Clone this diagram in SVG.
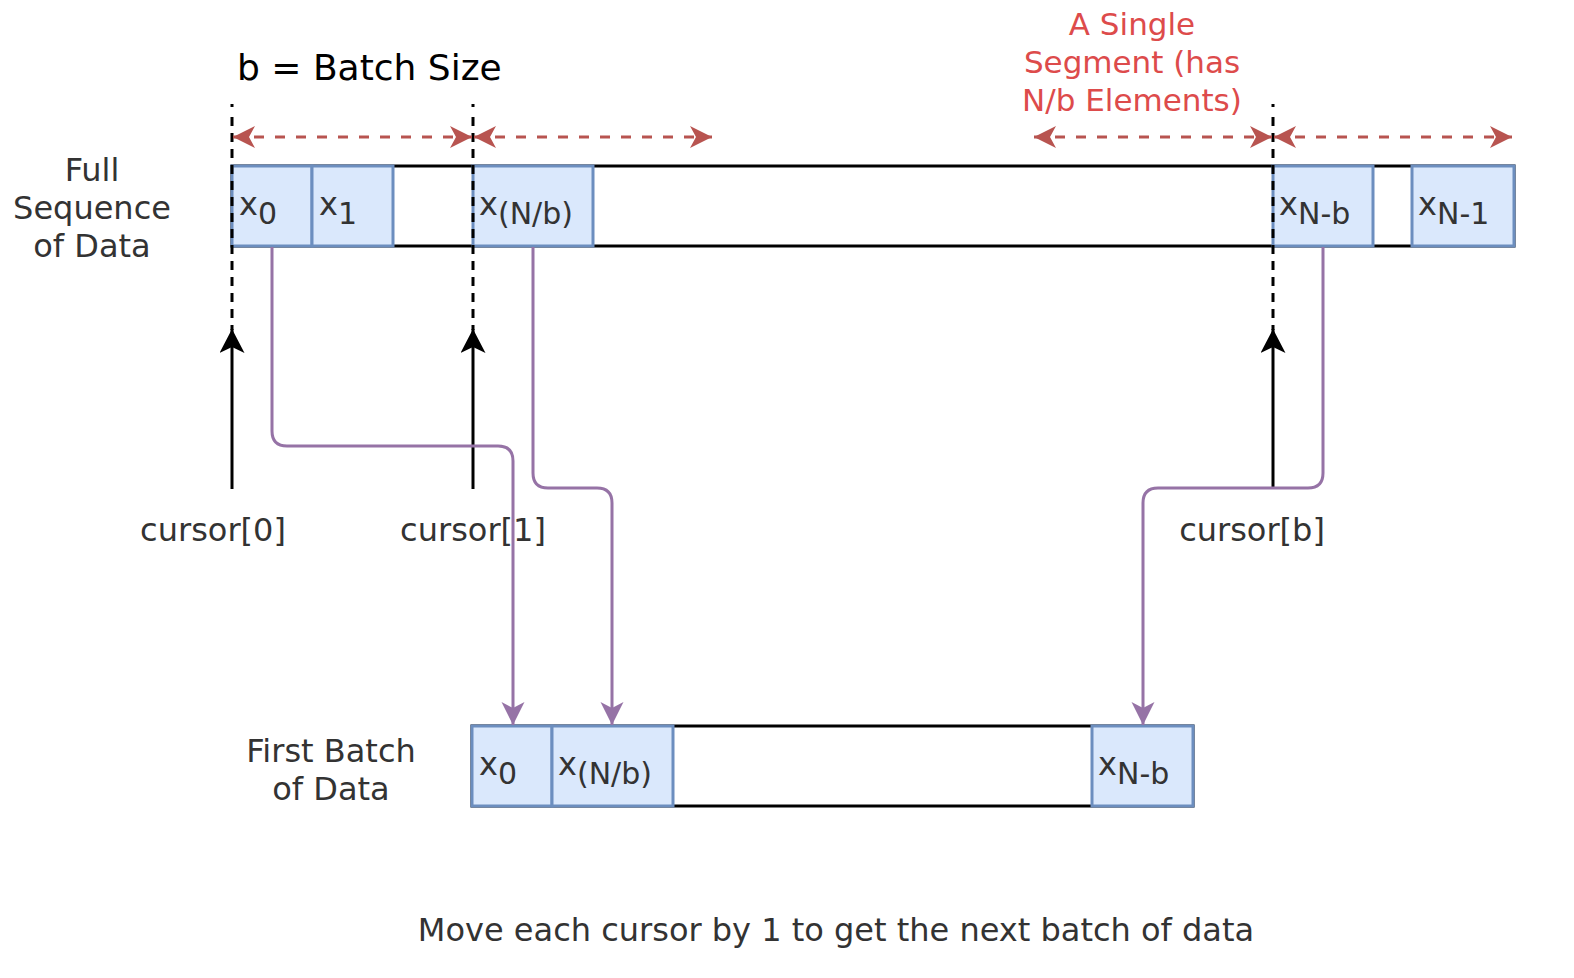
<svg xmlns="http://www.w3.org/2000/svg" width="1574" height="978" viewBox="0 0 1574 978">
  <style>
    text { font-family: "DejaVu Sans", Verdana, sans-serif; fill: #333333; }
    .lbl { font-size: 32px; text-anchor: middle; }
    .foot { font-size: 32px; text-anchor: middle; }
    .title { font-size: 36px; fill: #000000; }
    .red { font-size: 31px; text-anchor: middle; fill: #dd4b4b; }
    .cell { fill: #dae8fc; stroke: #6c8ebf; stroke-width: 3; }
    .bar { fill: #ffffff; stroke: #000000; stroke-width: 3; }
    .x { font-size: 32px; }
    .sub { font-size: 30px; }
    .span { fill: none; stroke: #b85450; stroke-width: 3; stroke-dasharray: 10 11; }
    .guide { fill: none; stroke: #000000; stroke-width: 3; stroke-dasharray: 3 10 9 7 9 7 9 7 9 7 9 7 9 7 9 7 9 7 9 7 9 7 9 7 9 7 9 7 9 7 200; }
    .cursor { fill: none; stroke: #000000; stroke-width: 3; }
    .link { fill: none; stroke: #9673a6; stroke-width: 3; }
  </style>
  <defs>
    <marker id="arrRed" markerUnits="userSpaceOnUse" markerWidth="24" markerHeight="22" refX="22" refY="11" orient="auto-start-reverse">
      <path d="M0,0 L22,11 L0,22 L6,11 Z" fill="#b85450"/>
    </marker>
    <marker id="arrBlack" markerUnits="userSpaceOnUse" markerWidth="26" markerHeight="26" refX="24" refY="12.5" orient="auto">
      <path d="M0,0 L24,12.5 L0,25 L6,12.5 Z" fill="#000000"/>
    </marker>
    <marker id="arrPurple" markerUnits="userSpaceOnUse" markerWidth="26" markerHeight="24" refX="23" refY="11.5" orient="auto">
      <path d="M0,0 L23,11.5 L0,23 L6,11.5 Z" fill="#9673a6"/>
    </marker>
  </defs>

  <text class="title" x="237" y="80">b = Batch Size</text>

  <g id="segment-label">
    <text class="red" x="1132" y="35">A Single</text>
    <text class="red" x="1132" y="73">Segment (has</text>
    <text class="red" x="1132" y="111">N/b Elements)</text>
  </g>

  <g id="full-label">
    <text class="lbl" x="92" y="181">Full</text>
    <text class="lbl" x="92" y="219">Sequence</text>
    <text class="lbl" x="92" y="257">of Data</text>
  </g>

  <!-- full sequence bar with its cells -->
  <g id="full-sequence">
    <rect class="bar" x="232" y="166" width="1282" height="80"/>
    <g id="cell-x0">
      <rect class="cell" x="232" y="166" width="80" height="80"/>
      <text x="239" y="215"><tspan class="x">x</tspan><tspan class="sub" dy="9">0</tspan></text>
    </g>
    <g id="cell-x1">
      <rect class="cell" x="312" y="166" width="81" height="80"/>
      <text x="319" y="215"><tspan class="x">x</tspan><tspan class="sub" dy="9">1</tspan></text>
    </g>
    <g id="cell-xNb">
      <rect class="cell" x="473" y="166" width="120" height="80"/>
      <text x="479" y="215"><tspan class="x">x</tspan><tspan class="sub" dy="9">(N/b)</tspan></text>
    </g>
    <g id="cell-xN-b">
      <rect class="cell" x="1273" y="166" width="100" height="80"/>
      <text x="1279" y="215"><tspan class="x">x</tspan><tspan class="sub" dy="9">N-b</tspan></text>
    </g>
    <g id="cell-xN-1">
      <rect class="cell" x="1412" y="166" width="102" height="80"/>
      <text x="1418" y="215"><tspan class="x">x</tspan><tspan class="sub" dy="9">N-1</tspan></text>
    </g>
  </g>

  <g id="batch-label">
    <text class="lbl" x="331" y="762">First Batch</text>
    <text class="lbl" x="331" y="800">of Data</text>
  </g>

  <!-- first batch bar -->
  <g id="first-batch">
    <rect class="bar" x="472" y="726" width="721" height="80"/>
    <g id="batch-x0">
      <rect class="cell" x="472" y="726" width="80" height="80"/>
      <text x="479" y="775"><tspan class="x">x</tspan><tspan class="sub" dy="9">0</tspan></text>
    </g>
    <g id="batch-xNb">
      <rect class="cell" x="552" y="726" width="121" height="80"/>
      <text x="558" y="775"><tspan class="x">x</tspan><tspan class="sub" dy="9">(N/b)</tspan></text>
    </g>
    <g id="batch-xN-b">
      <rect class="cell" x="1092" y="726" width="101" height="80"/>
      <text x="1098" y="775"><tspan class="x">x</tspan><tspan class="sub" dy="9">N-b</tspan></text>
    </g>
  </g>

  <g id="cursor-labels">
    <text class="lbl" x="213" y="541">cursor[0]</text>
    <text class="lbl" x="473" y="541">cursor[1]</text>
    <text class="lbl" x="1252" y="541">cursor[b]</text>
  </g>

  <g id="connectors">
    <!-- segment boundaries -->
    <line class="guide" x1="232" y1="104" x2="232" y2="330"/>
    <line class="guide" x1="473" y1="104" x2="473" y2="330"/>
    <line class="guide" x1="1273" y1="104" x2="1273" y2="330"/>

    <!-- segment spans -->
    <line class="span" x1="233" y1="137" x2="472" y2="137" marker-start="url(#arrRed)" marker-end="url(#arrRed)"/>
    <line class="span" x1="474" y1="137" x2="712" y2="137" marker-start="url(#arrRed)" marker-end="url(#arrRed)"/>
    <line class="span" x1="1034" y1="137" x2="1272" y2="137" marker-start="url(#arrRed)" marker-end="url(#arrRed)"/>
    <line class="span" x1="1274" y1="137" x2="1512" y2="137" marker-start="url(#arrRed)" marker-end="url(#arrRed)"/>

    <!-- cursors -->
    <line class="cursor" x1="232" y1="489" x2="232" y2="329" marker-end="url(#arrBlack)"/>
    <line class="cursor" x1="473" y1="489" x2="473" y2="329" marker-end="url(#arrBlack)"/>
    <line class="cursor" x1="1273" y1="489" x2="1273" y2="329" marker-end="url(#arrBlack)"/>

    <!-- gather into first batch -->
    <path class="link" d="M272,247 V431 Q272,446 287,446 H498 Q513,446 513,461 V725" marker-end="url(#arrPurple)"/>
    <path class="link" d="M533,247 V473 Q533,488 548,488 H597 Q612,488 612,503 V725" marker-end="url(#arrPurple)"/>
    <path class="link" d="M1323,247 V473 Q1323,488 1308,488 H1158 Q1143,488 1143,503 V725" marker-end="url(#arrPurple)"/>
  </g>

  <text class="foot" x="836" y="941">Move each cursor by 1 to get the next batch of data</text>
</svg>
